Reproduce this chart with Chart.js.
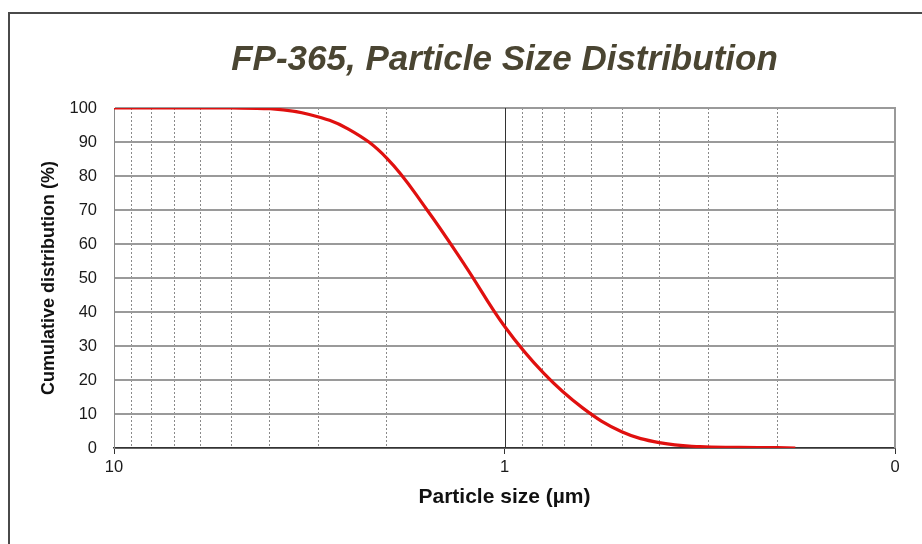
<!DOCTYPE html>
<html>
<head>
<meta charset="utf-8">
<script src="https://cdn.jsdelivr.net/npm/chart.js@4"></script>
<style>
  html, body { margin: 0; padding: 0; background: #fff; overflow: hidden; }
  #frame {
    position: absolute; left: 8px; top: 12px; width: 1000px; height: 1000px;
    border-left: 2px solid #4a4a4a; border-top: 2px solid #4a4a4a;
  }
  #wrap { position: absolute; left: 0; top: 0; width: 922px; height: 544px; }
</style>
</head>
<body>
<div id="frame"></div>
<div id="wrap"><canvas id="psd" width="922" height="544"></canvas></div>
<script>
// particle size (µm) vs cumulative distribution (%)
const sizes = [10, 7.94, 6.31, 5.01, 3.98, 3.16, 2.51, 2.0, 1.585, 1.259, 1.0, 0.794, 0.631, 0.501, 0.398, 0.316, 0.251, 0.2, 0.18];
const cumulative = [100, 100, 100, 100, 99.8, 98.1, 93.8, 85.2, 70.3, 53.5, 35.8, 22.0, 11.8, 4.8, 1.5, 0.4, 0.2, 0.1, 0];

// log grid lines on the size axis, and the few that carry a label
const xGridValues = [10, 9, 8, 7, 6, 5, 4, 3, 2, 1, 0.9, 0.8, 0.7, 0.6, 0.5, 0.4, 0.3, 0.2, 0.1];
const xLabelValues = [10, 1, 0.1];
const xLabelTexts = ["10", "1", "0"];

const FONT = "'Liberation Sans', Arial, sans-serif";

// solid line at 1 µm and the right edge, under the curve
const majorLines = {
    id: "majorLines",
    beforeDatasetsDraw(chart) {
        const { ctx, chartArea, scales } = chart;
        ctx.save();
        ctx.strokeStyle = "#333";
        ctx.lineWidth = 1;
        let x = Math.round(scales.x.getPixelForValue(1)) + 0.5;
        ctx.beginPath();
        ctx.moveTo(x, chartArea.top);
        ctx.lineTo(x, chartArea.bottom);
        ctx.stroke();

        ctx.strokeStyle = "#999";
        ctx.lineWidth = 2;
        x = Math.round(scales.x.getPixelForValue(0.1));
        ctx.beginPath();
        ctx.moveTo(x, chartArea.top - 1);
        ctx.lineTo(x, chartArea.bottom);
        ctx.stroke();
        ctx.restore();
    },
};

const points = sizes.map((s, i) => ({ x: s, y: cumulative[i] }));

new Chart(document.getElementById("psd"), {
    type: "line",
    data: {
        datasets: [
            {
                data: points,
                borderColor: "#e0100f",
                borderWidth: 3.2,
                pointRadius: 0,
                fill: false,
                tension: 0.4,
            },
        ],
    },
    options: {
        responsive: false,
        animation: false,
        layout: { padding: { left: 0, right: 27, top: 0, bottom: 0 } },
        plugins: {
            legend: { display: false },
            tooltip: { enabled: false },
            title: {
                display: true,
                fullSize: false,
                text: "FP-365, Particle Size Distribution",
                color: "#4a4532",
                font: { family: FONT, size: 35, weight: "bold", style: "italic" },
                padding: { top: 39, bottom: 27 },
            },
        },
        scales: {
            x: {
                type: "logarithmic",
                reverse: true,
                min: 0.1,
                max: 10,
                afterBuildTicks: (scale) => {
                    scale.ticks = xGridValues.map((v) => ({ value: v }));
                },
                afterFit: (scale) => {
                    scale.height = 96;
                },
                ticks: {
                    autoSkip: false,
                    maxRotation: 0,
                    padding: 4,
                    color: "#1a1a1a",
                    font: { family: FONT, size: 16.5 },
                    callback: (value) => {
                        const i = xLabelValues.findIndex((v) => Math.abs(v - value) < 1e-9);
                        return i >= 0 ? xLabelTexts[i] : "";
                    },
                },
                grid: {
                    color: (ctx) => {
                        const v = ctx.tick ? ctx.tick.value : 0;
                        return v === 1 || v === 0.1 || v === 10 ? "rgba(0,0,0,0)" : "#8a8a8a";
                    },
                    lineWidth: 1,
                    tickLength: 6,
                    tickWidth: 1,
                    tickColor: (ctx) => {
                        const v = ctx.tick ? ctx.tick.value : 0;
                        return xLabelValues.some((l) => Math.abs(l - v) < 1e-9) ? "#333" : "rgba(0,0,0,0)";
                    },
                },
                border: { display: true, color: "#333", width: 1.5, dash: [2, 2] },
                title: {
                    display: true,
                    text: "Particle size (µm)",
                    color: "#111",
                    font: { family: FONT, size: 21, weight: "bold" },
                    padding: { top: 0, bottom: 34 },
                },
            },
            y: {
                min: 0,
                max: 100,
                afterFit: (scale) => {
                    scale.width = 114;
                },
                ticks: {
                    stepSize: 10,
                    padding: 17,
                    color: "#1a1a1a",
                    font: { family: FONT, size: 16.5 },
                },
                grid: {
                    color: "#9a9a9a",
                    lineWidth: 2,
                    drawTicks: false,
                },
                border: { display: true, color: "#8a8a8a", width: 1 },
                title: {
                    display: true,
                    text: "Cumulative distribution (%)",
                    color: "#111",
                    font: { family: FONT, size: 18, weight: "bold" },
                    padding: { top: 38, bottom: 0 },
                },
            },
        },
    },
    plugins: [majorLines],
});
</script>
</body>
</html>
